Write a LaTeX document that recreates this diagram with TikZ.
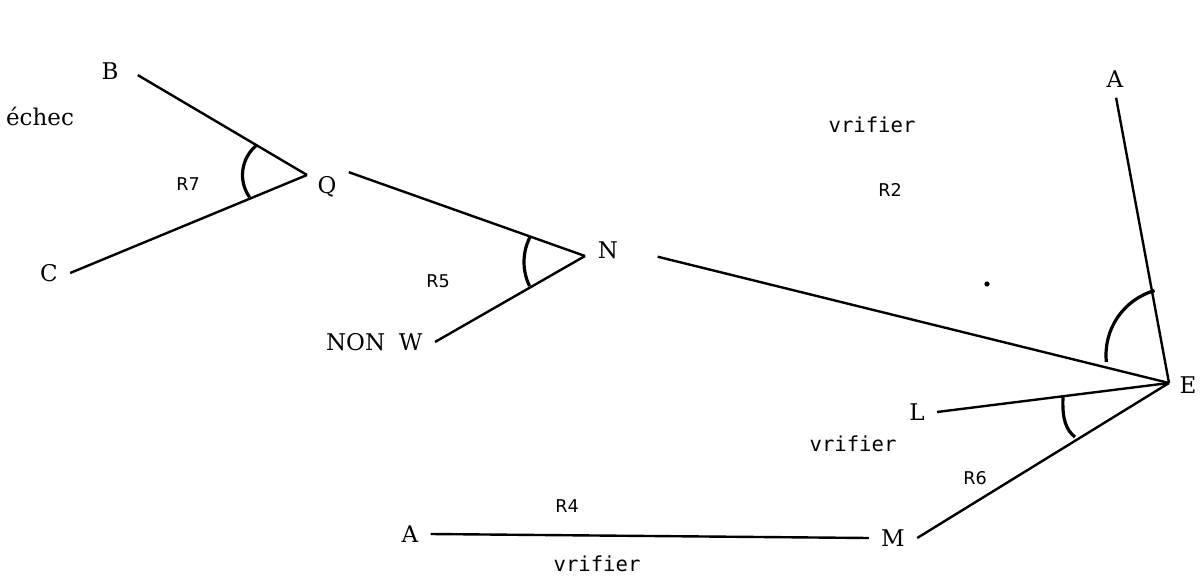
\documentclass[tikz,border=0pt]{standalone}
\usepackage{fontspec}
\newfontfamily\letterfont{DejaVu Serif}
\newfontfamily\rulefont{DejaVu Sans}
\newfontfamily\dotfont{DejaVu Sans Mono}

\begin{document}
\begin{tikzpicture}[x=0.5pt, y=0.5pt,
  every point/.style={font=\letterfont\fontsize{11.5}{13}\selectfont,
    inner xsep=6pt, inner ysep=2pt, text height=8.4pt, text depth=0pt},
  rule label/.style={font=\rulefont\fontsize{8.8}{10}\selectfont, inner sep=0pt},
  note/.style={font=\dotfont\fontsize{10.3}{12}\selectfont, inner sep=0pt},
  link/.style={line width=1.2pt},
  angle mark/.style={line width=1.6pt}]
\useasboundingbox (0,0) rectangle (1203,579);

% meeting points of the branches
\coordinate (q) at (307,404);
\coordinate (n) at (585,323);
\coordinate (e) at (1169,196);

\foreach \name/\l/\x/\y in {B/B/110/508, C/C/49/306, Q/Q/327/394, N/N/608/329,
    E/E/1188/194, A-top/A/1115/500, L/L/917/167, M/M/893/41, A-bot/A/410/45}
  \node [every point] (\name) at (\x,\y) {\l};
\node [every point, anchor=east] (non-W) at (435,237) {NON\hspace{0.6em}W};
\node [every point, inner sep=0pt] (echec) at (40,462) {échec};

\foreach \l/\x/\y in {R7/188/395, R5/438/298, R2/890/389, R6/975/101, R4/567/73}
  \node [rule label] (\l) at (\x,\y) {\l};

\foreach \x/\y [count=\i] in {872/454, 853/135, 597/15}
  \node [note] (verif-\i) at (\x,\y) {vrifier};

% branches
\draw [link, shorten <=4pt] (B.east) -- (q);
\draw [link] (C.east) -- (q);
\draw [link] (Q.north east) -- (n);
\draw [link] (non-W.east) -- (n);
\draw [link, shorten <=14pt] (N.east) -- (e);
\draw [link, shorten <=3pt] (A-top.south) -- (e);
\draw [link] (L.east) -- (e);
\draw [link] (M.east) -- (e);
\draw [link] (A-bot.east) -- (M.west);

% angle marks
\draw [angle mark] (281,404) ++(128.7:19.25pt) arc [start angle=128.7, end angle=215.4, radius=19.25pt];
\draw [angle mark] (579,317) ++(152:27.5pt) arc [start angle=152, end angle=206, radius=27.5pt];
\draw [angle mark] (1173,224) ++(106:33.5pt) arc [start angle=106, end angle=186, radius=33.5pt];
\draw [angle mark] (1063,182) .. controls (1062,160) and (1066,149) .. (1075,142);

\fill (987,295) circle (1.3pt);
\end{tikzpicture}
\end{document}
